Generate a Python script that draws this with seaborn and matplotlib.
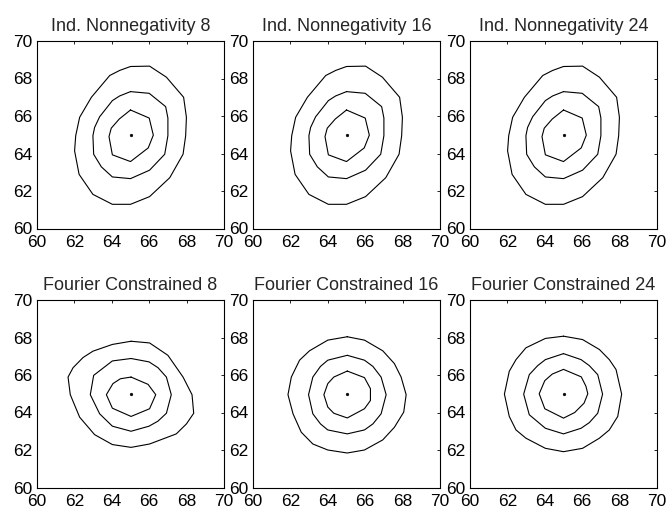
import matplotlib
matplotlib.use("Agg")
import matplotlib.pyplot as plt
import seaborn as sns
import pandas as pd

# ---------------- data ----------------
TITLES = ["Ind. Nonnegativity 8", "Ind. Nonnegativity 16", "Ind. Nonnegativity 24",
          "Fourier Constrained 8", "Fourier Constrained 16", "Fourier Constrained 24"]
TICKS = [60, 62, 64, 66, 68, 70]
CENTER = (65.0, 65.0)

# Independent nonnegativity (same shape in all three top panels)
IND_INNER_X = [65.0, 66.0, 66.22, 65.95, 65.0, 64.03, 63.85, 63.97, 64.4]
IND_INNER_Y = [66.32, 65.89, 64.98, 64.3, 63.57, 63.93, 64.9, 65.35, 65.84]
IND_MID_X = [65.0, 66.0, 66.88, 67.0, 67.0, 66.83, 66.02, 65.0, 64.03, 63.44, 63.03, 62.99, 63.08, 63.35, 64.03, 64.42]
IND_MID_Y = [67.3, 67.21, 66.5, 65.89, 64.95, 63.96, 63.11, 62.66, 62.75, 63.29, 63.96, 64.95, 65.39, 65.96, 66.82, 67.07]
IND_OUT_X = [65.0, 66.02, 66.92, 67.84, 67.99, 67.95, 67.81, 67.1, 66.02, 65.0, 64.03, 62.99, 62.25, 62.01, 62.07, 62.28, 62.91, 63.89, 64.42]
IND_OUT_Y = [68.64, 68.66, 68.07, 67.0, 65.93, 64.95, 63.96, 62.71, 61.7, 61.29, 61.29, 61.82, 62.89, 64.14, 64.95, 65.93, 67.0, 68.16, 68.43]

# Fourier constrained 8
F8_INNER_X = [65.03, 65.94, 66.35, 66.02, 65.03, 64.03, 63.71, 64.06, 64.46]
F8_INNER_Y = [65.89, 65.5, 64.95, 64.2, 63.79, 64.23, 64.95, 65.54, 65.8]
F8_MID_X = [65.03, 65.99, 66.47, 66.92, 67.18, 66.92, 66.47, 65.99, 65.03, 64.03, 63.35, 62.85, 63.03, 64.03]
F8_MID_Y = [66.88, 66.7, 66.39, 65.89, 64.95, 63.96, 63.54, 63.27, 63.0, 63.27, 63.93, 64.95, 65.98, 66.75]
F8_OUT_X = [65.03, 66.02, 67.0, 67.81, 68.29, 68.38, 67.99, 67.45, 66.02, 65.03, 64.03, 63.08, 62.28, 61.78, 61.66, 61.93, 62.46, 62.99, 64.03]
F8_OUT_Y = [67.8, 67.71, 67.05, 65.89, 64.95, 63.96, 63.39, 62.86, 62.32, 62.14, 62.29, 62.82, 63.75, 64.95, 65.89, 66.39, 66.93, 67.27, 67.63]

# Fourier constrained 16
F16_INNER_X = [65.04, 65.96, 66.28, 66.28, 65.96, 65.04, 64.32, 64.0, 63.79, 64.0, 64.32]
F16_INNER_Y = [66.21, 65.86, 65.27, 64.64, 64.2, 63.71, 63.96, 64.29, 64.95, 65.54, 65.89]
F16_MID_X = [65.04, 65.96, 66.41, 66.85, 67.12, 66.85, 66.41, 65.96, 65.04, 64.0, 63.61, 63.2, 62.97, 63.2, 63.61, 64.0]
F16_MID_Y = [67.05, 66.79, 66.46, 65.89, 64.95, 63.93, 63.39, 63.07, 62.86, 63.07, 63.39, 63.93, 64.95, 65.89, 66.46, 66.79]
F16_OUT_X = [65.04, 65.96, 66.94, 67.56, 67.92, 68.19, 68.06, 67.56, 66.94, 65.96, 65.04, 64.0, 63.2, 62.58, 62.14, 61.87, 62.05, 62.49, 63.02, 64.0]
F16_OUT_Y = [68.04, 67.86, 67.29, 66.61, 65.89, 64.95, 64.02, 63.21, 62.54, 62.0, 61.84, 62.0, 62.32, 62.95, 63.93, 64.95, 65.89, 66.79, 67.29, 67.86]

# Fourier constrained 24
F24_INNER_X = [65.0, 65.95, 66.2, 66.3, 66.1, 65.6, 65.0, 64.4, 64.0, 63.7, 64.0, 64.4]
F24_INNER_Y = [66.3, 65.9, 65.4, 65.0, 64.5, 64.0, 63.7, 64.0, 64.2, 65.0, 65.7, 66.05]
F24_MID_X = [65.0, 65.94, 66.38, 66.83, 67.09, 66.83, 66.38, 65.94, 65.0, 64.03, 63.17, 62.87, 63.17, 63.62, 64.03]
F24_MID_Y = [67.14, 66.82, 66.5, 66.02, 64.98, 63.96, 63.46, 63.16, 62.86, 63.16, 63.88, 64.98, 66.02, 66.5, 66.82]
F24_OUT_X = [65.0, 66.02, 66.92, 67.45, 67.81, 68.11, 67.9, 67.45, 66.92, 66.02, 65.0, 64.03, 62.99, 62.46, 62.1, 61.84, 62.1, 62.46, 62.99, 64.03]
F24_OUT_Y = [68.07, 67.89, 67.36, 66.82, 66.29, 64.98, 63.79, 63.07, 62.63, 62.09, 61.91, 62.09, 62.63, 63.07, 63.79, 64.98, 66.2, 66.82, 67.45, 67.95]

IND = [(IND_INNER_X, IND_INNER_Y), (IND_MID_X, IND_MID_Y), (IND_OUT_X, IND_OUT_Y)]
PANELS = [
    IND, IND, IND,
    [(F8_INNER_X, F8_INNER_Y), (F8_MID_X, F8_MID_Y), (F8_OUT_X, F8_OUT_Y)],
    [(F16_INNER_X, F16_INNER_Y), (F16_MID_X, F16_MID_Y), (F16_OUT_X, F16_OUT_Y)],
    [(F24_INNER_X, F24_INNER_Y), (F24_MID_X, F24_MID_Y), (F24_OUT_X, F24_OUT_Y)],
]

# ---------------- styling ----------------
sns.set_theme(style="white")
plt.rcParams["font.family"] = ["Liberation Sans", "DejaVu Sans"]
plt.rcParams["axes.edgecolor"] = "black"
plt.rcParams["axes.linewidth"] = 0.8

fig = plt.figure(figsize=(6.68, 5.12), dpi=100)
W, H = 668.0, 512.0
lefts = [37, 253, 470]
tops = [41, 300]
aw, ah = 187, 187.5

for i, (title, contours) in enumerate(zip(TITLES, PANELS)):
    r, c = divmod(i, 3)
    ax = fig.add_axes([lefts[c] / W, 1 - (tops[r] + ah) / H, aw / W, ah / H])
    for k, (xs, ys) in enumerate(contours):
        df = pd.DataFrame({"x": list(xs) + [xs[0]], "y": list(ys) + [ys[0]]})
        sns.lineplot(data=df, x="x", y="y", sort=False, estimator=None,
                     color="black", linewidth=0.8, ax=ax)
    sns.scatterplot(x=[CENTER[0]], y=[CENTER[1]], color="black", s=4,
                    edgecolor="black", linewidth=0.3, ax=ax)
    ax.set_xlim(60, 70)
    ax.set_ylim(60, 70)
    ax.set_xticks(TICKS)
    ax.set_yticks(TICKS)
    ax.set_xticklabels([str(t) for t in TICKS])
    ax.set_yticklabels([str(t) for t in TICKS])
    ax.set_xlabel("")
    ax.set_ylabel("")
    ax.tick_params(direction="in", top=True, right=True, length=2, width=0.6,
                   labelsize=12.5, colors="black")
    ax.tick_params(axis="x", pad=5)
    ax.tick_params(axis="y", pad=3.3)
    for s in ax.spines.values():
        s.set_visible(True)
        s.set_color("black")
        s.set_linewidth(0.8)
    ax.set_title(title, fontsize=13, pad=7)

fig.savefig("out.png", dpi=100)
